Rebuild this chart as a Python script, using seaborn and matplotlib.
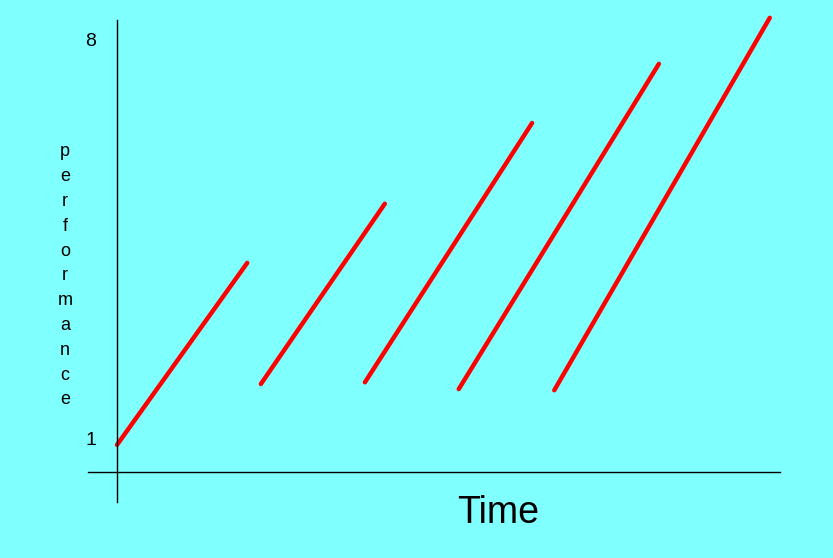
import seaborn as sns
import numpy as np
import matplotlib.pyplot as plt
import pandas as pd

# segment end points (time, performance)
seg_id = [1, 1, 2, 2, 3, 3, 4, 4, 5, 5]
time = [0.0, 2.29, 2.53, 4.71, 4.36, 7.30, 6.01, 9.53, 7.69, 11.48]
perf = [0.88, 4.08, 1.95, 5.12, 1.98, 6.54, 1.86, 7.58, 1.84, 8.39]
y_ticks = [1, 8]
y_label = "performance"
x_label = "Time"

df = pd.DataFrame({"segment": seg_id, "time": time, "performance": perf})

bg = "#80FFFF"
fig = plt.figure(figsize=(8.33, 5.58), dpi=100, facecolor=bg)
ax = fig.add_axes([0, 0, 1, 1])
ax.set_facecolor(bg)

sns.lineplot(
    data=df,
    x="time",
    y="performance",
    units="segment",
    estimator=None,
    color="#FF0000",
    linewidth=3.2,
    solid_capstyle="round",
    legend=False,
    ax=ax,
)

ax.set_xlim(-2.058, 12.592)
ax.set_ylim(-1.110, 8.703)

# axes lines crossing near the origin
ax.spines["top"].set_visible(False)
ax.spines["right"].set_visible(False)
ax.spines["left"].set_position(("data", 0))
ax.spines["left"].set_bounds(-0.13, 8.35)
ax.spines["bottom"].set_position(("data", 0.40))
ax.spines["bottom"].set_bounds(-0.51, 11.66)
for s in ("left", "bottom"):
    ax.spines[s].set_linewidth(1.0)
    ax.spines[s].set_color("black")

ax.set_xticks([])
ax.set_yticks(y_ticks)
ax.set_yticklabels([str(v) for v in y_ticks])
ax.tick_params(axis="y", length=0, pad=15, labelsize=14)
for t in ax.get_yticklabels():
    t.set_fontfamily("Liberation Sans")
ax.set_xlabel("")
ax.set_ylabel("")

ax.text(6.70, -0.32, x_label, fontsize=27, family="Liberation Sans",
        ha="center", va="center")
ax.text(-0.915, 3.85, "\n".join(y_label), fontsize=13, family="Liberation Sans",
        ha="center", va="center", linespacing=1.6)

fig.savefig("out.png", dpi=100, facecolor=bg)
